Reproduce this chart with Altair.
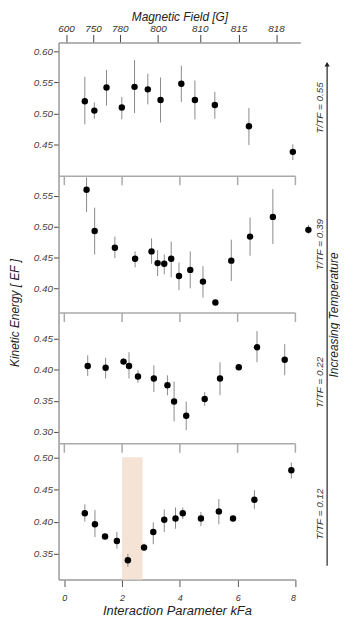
import altair as alt
import pandas as pd

FONT = "Liberation Sans"

# bottom axis ticks (k_F a) and top axis (magnetic field) labels at their k_F a positions
x_ticks = [0, 2, 4, 6, 8]
field_labels = ["600", "750", "780", "800", "810", "815", "818"]
field_pos = [0.06, 0.99, 1.92, 3.24, 4.69, 6.03, 7.33]

# T/TF = 0.55
kfa_1 = [0.71, 1.04, 1.46, 1.99, 2.43, 2.89, 3.33, 4.05, 4.52, 5.21, 6.39, 7.91]
ke_1 = [0.520, 0.505, 0.542, 0.510, 0.543, 0.539, 0.522, 0.548, 0.522, 0.514, 0.480, 0.439]
lo_1 = [0.483, 0.492, 0.513, 0.491, 0.501, 0.515, 0.486, 0.519, 0.491, 0.492, 0.450, 0.426]
hi_1 = [0.559, 0.518, 0.570, 0.527, 0.586, 0.564, 0.558, 0.577, 0.553, 0.535, 0.509, 0.451]

# T/TF = 0.39
kfa_2 = [0.77, 1.05, 1.75, 2.45, 3.02, 3.23, 3.46, 3.70, 3.97, 4.36, 4.80, 5.23, 5.78, 6.43, 7.22, 8.45]
ke_2 = [0.560, 0.493, 0.466, 0.448, 0.460, 0.441, 0.440, 0.448, 0.420, 0.430, 0.411, 0.377, 0.445, 0.484, 0.516, 0.495]
lo_2 = [0.524, 0.455, 0.449, 0.434, 0.440, 0.420, 0.423, 0.418, 0.397, 0.400, 0.385, 0.374, 0.412, 0.453, 0.472, 0.488]
hi_2 = [0.580, 0.531, 0.484, 0.460, 0.481, 0.462, 0.455, 0.476, 0.442, 0.460, 0.436, 0.380, 0.479, 0.515, 0.561, 0.503]

# T/TF = 0.22
kfa_3 = [0.81, 1.43, 2.05, 2.24, 2.55, 3.10, 3.57, 3.80, 4.22, 4.86, 5.39, 6.04, 6.67, 7.63]
ke_3 = [0.406, 0.403, 0.413, 0.406, 0.389, 0.386, 0.375, 0.349, 0.326, 0.353, 0.386, 0.404, 0.436, 0.416]
lo_3 = [0.390, 0.386, 0.408, 0.386, 0.379, 0.364, 0.359, 0.317, 0.303, 0.342, 0.359, 0.400, 0.412, 0.391]
hi_3 = [0.423, 0.419, 0.418, 0.428, 0.399, 0.407, 0.391, 0.381, 0.349, 0.364, 0.412, 0.408, 0.462, 0.441]

# T/TF = 0.12
kfa_4 = [0.71, 1.06, 1.41, 1.82, 2.20, 2.76, 3.08, 3.46, 3.85, 4.10, 4.73, 5.35, 5.84, 6.58, 7.86]
ke_4 = [0.413, 0.396, 0.377, 0.370, 0.340, 0.360, 0.384, 0.403, 0.405, 0.413, 0.405, 0.416, 0.405, 0.434, 0.480]
lo_4 = [0.400, 0.376, 0.374, 0.358, 0.330, 0.355, 0.365, 0.384, 0.389, 0.404, 0.393, 0.396, 0.402, 0.420, 0.467]
hi_4 = [0.427, 0.418, 0.380, 0.384, 0.350, 0.366, 0.399, 0.419, 0.422, 0.422, 0.415, 0.435, 0.408, 0.449, 0.492]

# shaded region in lowest panel
band_x = [2.0, 2.71]
band_y = [0.50, 0.31]

temp_labels = ["T/TF = 0.55", "T/TF = 0.39", "T/TF = 0.22", "T/TF = 0.12"]

W = 239
X_DOM = [-0.2, 8.0]

label_expr = "[" + ",".join("'%s'" % s for s in field_labels) + "][indexof([" + \
    ",".join(str(v) for v in field_pos) + "], datum.value)]"

yaxis_kw = dict(format=".2f", title=None, grid=False, domainColor="#9a9a9a", domainWidth=1.5,
                tickColor="#444", tickSize=5, tickWidth=1, labelFont=FONT, labelFontStyle="italic",
                labelFontSize=10, labelColor="#444", labelPadding=1)


def panel(kfa, ke, lo, hi, ydom, yvals, height, label, label_y, width=W, xdom=X_DOM,
          top_axis=False, bottom_axis=False, separator=True, extras=()):
    df = pd.DataFrame(dict(k=kfa, e=ke, lo=lo, hi=hi))
    xscale = alt.Scale(domain=xdom, nice=False, zero=False)
    yscale = alt.Scale(domain=ydom, nice=False, zero=False)
    if top_axis:
        xaxis = alt.Axis(orient="top", values=field_pos, labelExpr=label_expr, grid=False,
                         title="Magnetic Field [G]", titleFont=FONT, titleFontSize=12,
                         titleFontStyle="italic", titleFontWeight="normal", titleColor="#222",
                         titlePadding=0, domainColor="#9a9a9a", domainWidth=1.5, tickColor="#444",
                         tickSize=8, labelFont=FONT, labelFontStyle="italic", labelFontSize=10,
                         labelColor="#333", labelPadding=1)
    elif bottom_axis:
        xaxis = alt.Axis(orient="bottom", values=x_ticks, format="d", grid=False,
                         title="Interaction Parameter kFa", titleFont=FONT, titleFontSize=13,
                         titleFontStyle="italic", titleFontWeight="normal", titleColor="#222",
                         titlePadding=2, domainColor="#9a9a9a", domainWidth=1.5, tickColor="#555",
                         tickSize=7, labelFont=FONT, labelFontStyle="italic", labelFontSize=9,
                         labelColor="#333", labelPadding=7)
    else:
        xaxis = None
    layers = []
    if separator:
        sep = pd.DataFrame(dict(k=[xdom[0]], k2=[xdom[1]]))
        layers.append(alt.Chart(sep).mark_rule(color="#aaaaaa", strokeWidth=1.5).encode(
            x=alt.X("k:Q", scale=xscale, axis=xaxis), x2="k2:Q", y=alt.value(0)))
        tk = pd.DataFrame(dict(k=x_ticks))
        layers.append(alt.Chart(tk).mark_rule(color="#aaaaaa", strokeWidth=1.5).encode(
            x=alt.X("k:Q", scale=xscale, axis=xaxis), y=alt.value(0), y2=alt.value(9)))
    layers.extend(extras)
    layers.append(alt.Chart(df).mark_rule(color="#8a8a8a", strokeWidth=1).encode(
        x=alt.X("k:Q", scale=xscale, axis=xaxis),
        y=alt.Y("lo:Q", scale=yscale, axis=alt.Axis(values=yvals, **yaxis_kw)),
        y2="hi:Q"))
    layers.append(alt.Chart(df).mark_circle(size=42, color="black", opacity=1).encode(
        x=alt.X("k:Q", scale=xscale, axis=xaxis), y=alt.Y("e:Q", scale=yscale)))
    layers.append(alt.Chart(pd.DataFrame(dict(t=[label]))).mark_text(
        angle=270, font=FONT, fontStyle="italic", fontSize=10, color="#333").encode(
        x=alt.value(264), y=alt.value(label_y), text="t:N"))
    return alt.layer(*layers).properties(width=width, height=height)


# extras
band_df = pd.DataFrame(dict(k=[band_x[0]], k2=[band_x[1]], y=[band_y[0]], y2=[band_y[1]]))
band = alt.Chart(band_df).mark_rect(color="#f5e3d6").encode(
    x=alt.X("k:Q", scale=alt.Scale(domain=X_DOM, nice=False, zero=False)), x2="k2:Q",
    y=alt.Y("y:Q", scale=alt.Scale(domain=[0.31, 0.521], nice=False, zero=False)), y2="y2:Q")

side_df = pd.DataFrame(dict(t=["Increasing Temperature"]))
arrow_line = alt.Chart(side_df).mark_rule(color="#222", strokeWidth=1.2).encode(
    x=alt.value(271), y=alt.value(-252), y2=alt.value(255))
arrow_head = alt.Chart(side_df).mark_point(shape="triangle-up", filled=True, size=28,
                                           color="#222", opacity=1).encode(
    x=alt.value(271), y=alt.value(-251))
side_text = alt.Chart(side_df).mark_text(angle=270, font=FONT, fontStyle="italic",
                                         fontSize=12, color="#222").encode(
    x=alt.value(278), y=alt.value(2), text="t:N")
ytitle = alt.Chart(pd.DataFrame(dict(t=["Kinetic Energy [ EF ]"]))).mark_text(
    angle=270, font=FONT, fontStyle="italic", fontSize=12, color="#222").encode(
    x=alt.value(-44), y=alt.value(0), text="t:N")

p1 = panel(kfa_1, ke_1, lo_1, hi_1, [0.40, 0.614], [0.45, 0.50, 0.55, 0.60], 135,
           temp_labels[0], 66, width=244, xdom=[-0.2, 8.17], top_axis=True, separator=False)
p2 = panel(kfa_2, ke_2, lo_2, hi_2, [0.36, 0.582], [0.40, 0.45, 0.50, 0.55], 138,
           temp_labels[1], 69)
p3 = panel(kfa_3, ke_3, lo_3, hi_3, [0.281, 0.491], [0.30, 0.35, 0.40, 0.45], 132,
           temp_labels[2], 70, extras=(arrow_line, arrow_head, side_text, ytitle))
p4 = panel(kfa_4, ke_4, lo_4, hi_4, [0.31, 0.521], [0.35, 0.40, 0.45, 0.50], 137,
           temp_labels[3], 71, bottom_axis=True, extras=(band,))

chart = alt.vconcat(p1, p2, p3, p4, spacing=0, bounds="flush").properties(
    padding={"left": 0, "top": 0, "right": 0, "bottom": 0}
).configure_view(stroke=None)

chart.save("out.html", embed_options={"renderer": "svg", "actions": False})
